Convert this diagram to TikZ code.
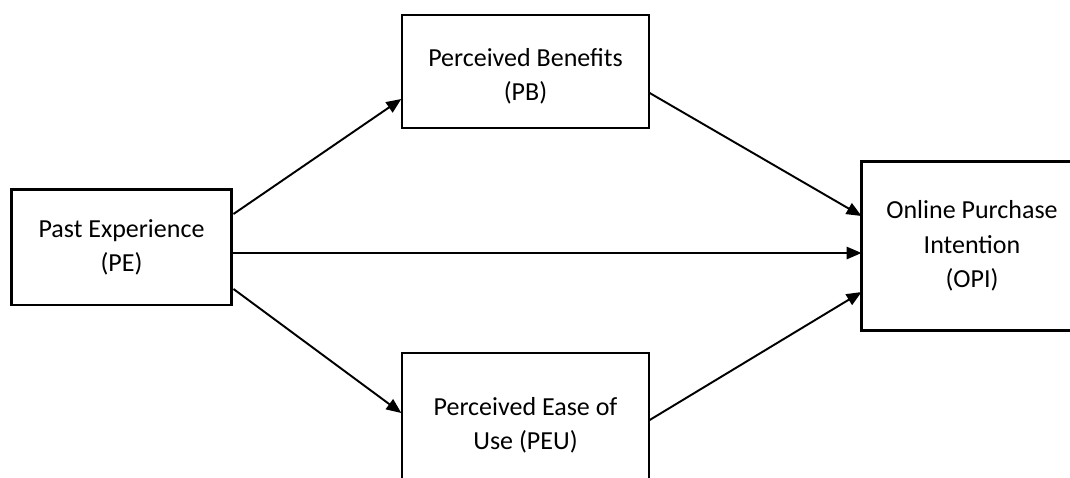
\documentclass[tikz,border=0pt]{standalone}
\usepackage{fontspec}
\setmainfont{Carlito}
\usetikzlibrary{arrows.meta}
\tikzstyle{construct} = [rectangle, align=center, text centered, draw=black, inner sep=0pt, font=\fontsize{14.8}{19.5}\selectfont]
\tikzstyle{thickbox} = [construct, line width=1.7pt]
\tikzstyle{thinbox} = [construct, line width=0.8pt]
\tikzstyle{arrow} = [line width=1.1pt, -{Triangle[length=8.5pt, width=7pt]}]

\begin{document}
\begin{tikzpicture}[x=0.02cm, y=-0.02cm]
\useasboundingbox (0,0) rectangle (1070,477);
\node (pe) [thickbox, minimum width=4.42cm, minimum height=2.32cm] at (121.5,247) {Past Experience\\(PE)};
\node (pb) [thinbox, minimum width=4.94cm, minimum height=2.26cm] at (525.5,71.5)
  {\begin{tabular}{@{}c@{}}\\[-13.9pt]Perceived Benefits\\(PB)\end{tabular}};
\node (peu) [thinbox, minimum width=4.94cm, minimum height=2.88cm] at (525.5,425) {Perceived Ease of\\Use (PEU)};
\node (opi) [thickbox, draw=none, minimum width=4.36cm, minimum height=3.32cm] at (972,246) {Online Purchase\\Intention\\(OPI)};
% right side of this box is off the page
\draw [line width=1.7pt] ([xshift=1cm]opi.north east) -- (opi.north west) -- (opi.south west) -- ([xshift=1cm]opi.south east);

\draw [arrow] ([yshift=0.66cm]pe.east) -- ([yshift=-0.55cm]pb.west);
\draw [arrow] ([yshift=-0.12cm]pe.east) -- ([yshift=-0.12cm]pe.east -| opi.west);
\draw [arrow] ([yshift=-0.84cm]pe.east) -- ([yshift=0.24cm]peu.west);
\draw [arrow] ([yshift=-0.43cm]pb.east) -- ([yshift=0.6cm]opi.west);
\draw [arrow] ([yshift=0.1cm]peu.east) -- ([yshift=-0.92cm]opi.west);
\end{tikzpicture}
\end{document}
